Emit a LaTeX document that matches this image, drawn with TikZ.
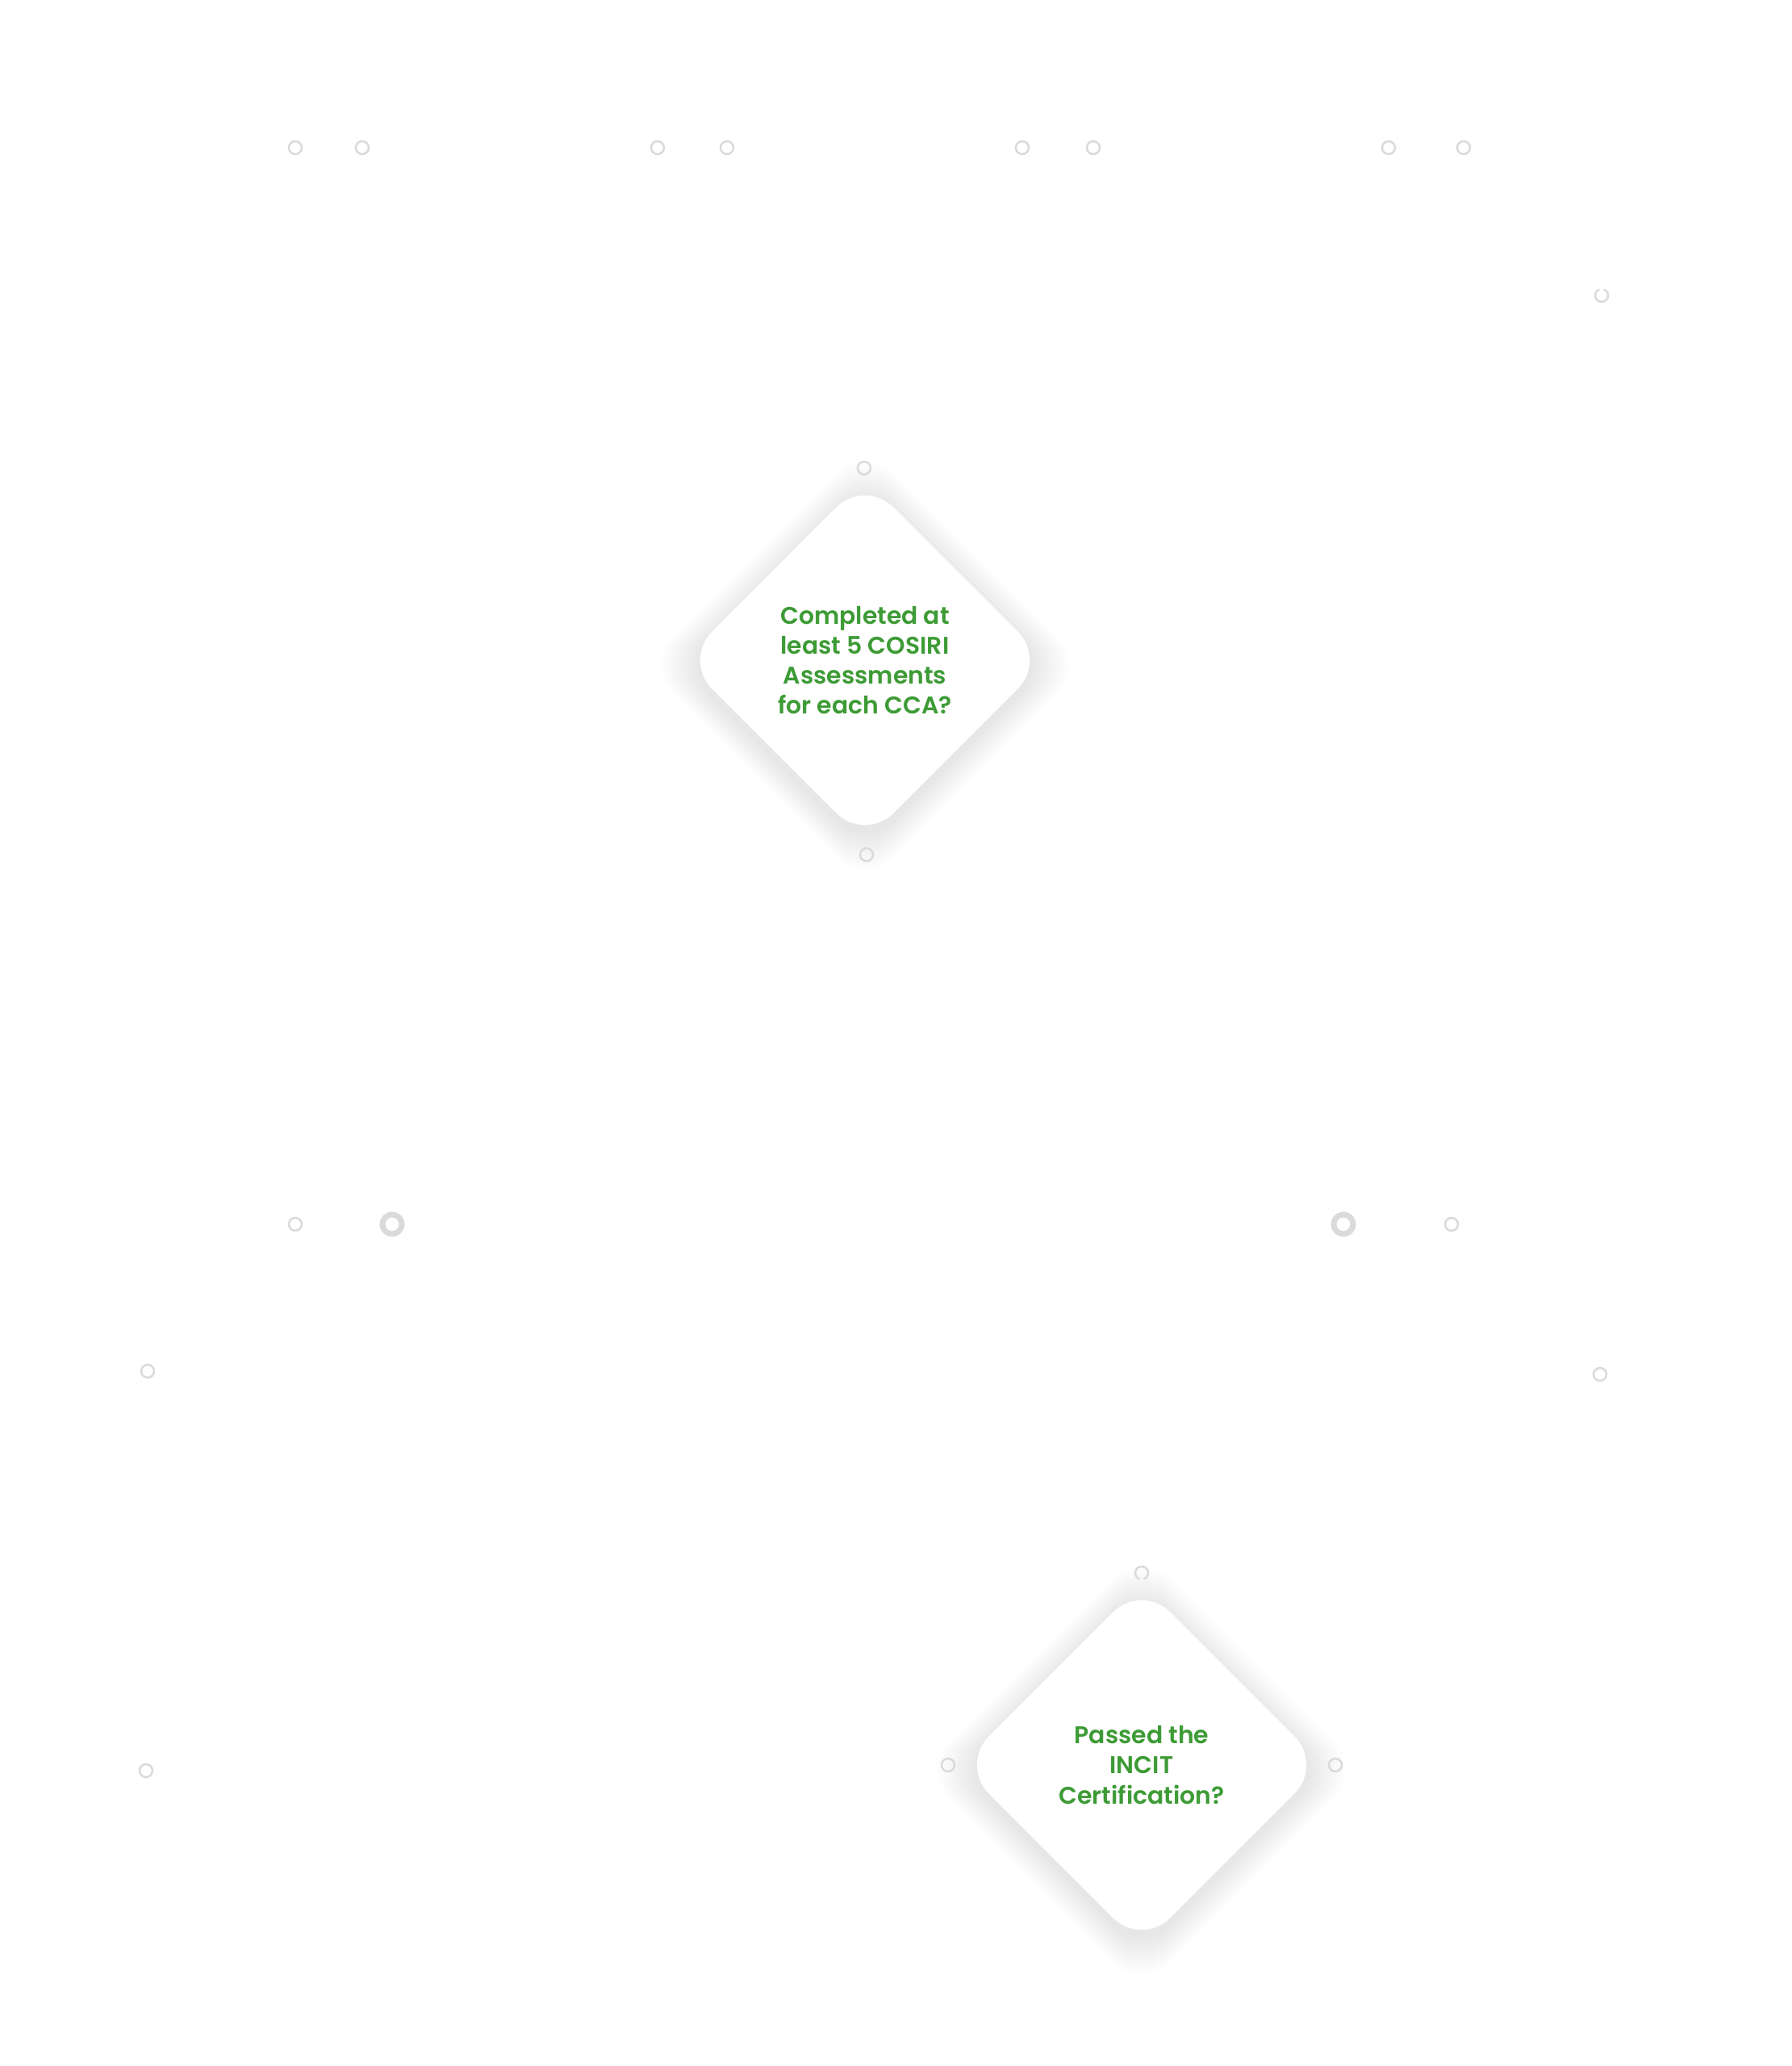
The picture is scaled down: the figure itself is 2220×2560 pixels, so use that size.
\documentclass[tikz,border=0pt]{standalone}
\usepackage{fontspec}
\setmainfont{Poppins}[BoldFont={Poppins SemiBold}]
\usepackage{tikz}
\usetikzlibrary{shapes.geometric}
\definecolor{incgreen}{HTML}{3D9B35}
\definecolor{ringgray}{HTML}{DADADA}
\tikzstyle{decision} = [diamond, aspect=1, minimum size=4.5cm, inner sep=0pt, rounded corners=0.5cm, fill=white, align=center, text=incgreen, font=\fontsize{8.5}{10.6}\selectfont\bfseries]
\tikzstyle{glow} = [diamond, aspect=1, inner sep=0pt, rounded corners=0.5cm, fill=black, fill opacity=0.006]
\tikzstyle{ring} = [circle, draw=ringgray, line width=0.025cm, minimum size=0.16cm, inner sep=0pt]
\tikzstyle{bigring} = [circle, draw=ringgray, line width=0.07cm, minimum size=0.24cm, inner sep=0pt]

\begin{document}
\begin{tikzpicture}[x=0.01cm, y=-0.01cm]
  \useasboundingbox (0,0) rectangle (2220,2560);
  % top row of rings
  \node (t1)[ring] at (366,183) {};
  \node (t2)[ring] at (449,183) {};
  \node (t3)[ring] at (815,183) {};
  \node (t4)[ring] at (901,183) {};
  \node (t5)[ring] at (1267,183) {};
  \node (t6)[ring] at (1355,183) {};
  \node (t7)[ring] at (1721,183) {};
  \node (t8)[ring] at (1814,183) {};
  \coordinate (r1) at (1985,366);
  \draw[ringgray, line width=0.025cm] (r1) ++(-70:8) arc (-70:250:8);
  % first decision
  \foreach \s in {1,...,12}
    \node (ga\s)[glow, minimum size=4.5cm+\s*0.08cm] at (1072,825) {};
  \node (d1)[decision] at (1072,818) {Completed at\\least 5 COSIRI\\Assessments\\for each CCA?};
  \node (d1in)[ring] at (1071,580) {};
  \node (d1out)[ring] at (1074,1059) {};
  % middle rings
  \node (m1)[ring] at (366,1517) {};
  \node (m2)[bigring] at (486,1517) {};
  \node (m3)[bigring] at (1665,1517) {};
  \node (m4)[ring] at (1799,1517) {};
  \node (s1)[ring] at (183,1699) {};
  \node (s2)[ring] at (1983,1703) {};
  \node (s3)[ring] at (181,2194) {};
  % second decision
  \foreach \s in {1,...,12}
    \node (gb\s)[glow, minimum size=4.5cm+\s*0.08cm] at (1415,2194) {};
  \node (d2)[decision] at (1415,2187) {Passed the\\INCIT\\Certification?};
  \coordinate (d2in) at (1415,1949);
  \draw[ringgray, line width=0.025cm] (d2in) ++(110:8) arc (110:430:8);
  \node (d2l)[ring] at (1175,2187) {};
  \node (d2r)[ring] at (1655,2187) {};
\end{tikzpicture}
\end{document}
